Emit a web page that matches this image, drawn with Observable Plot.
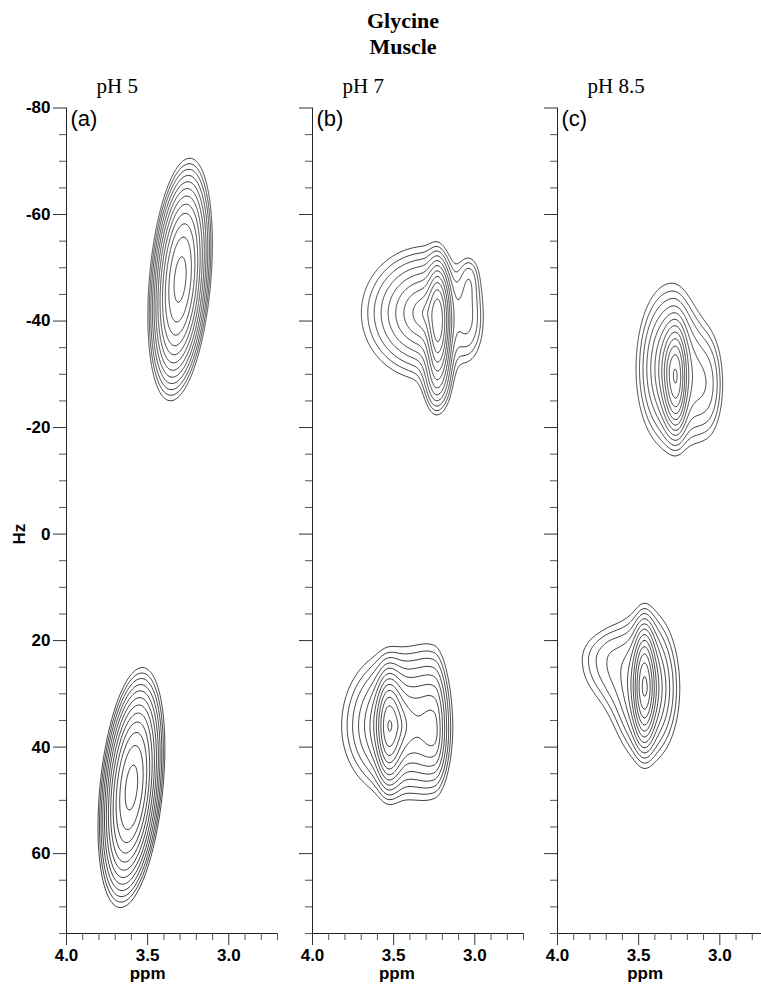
<!DOCTYPE html>
<html>
<head>
<meta charset="utf-8">
<script src="https://cdn.jsdelivr.net/npm/d3@7"></script>
<script src="https://cdn.jsdelivr.net/npm/@observablehq/plot@0.6"></script>
<style>
  html, body { margin: 0; padding: 0; background: #fff; overflow: hidden; }
  #wrap { position: relative; width: 761px; height: 986px; overflow: hidden; background: #fff; }
  #title { position: absolute; left: 303px; top: 8px; width: 200px; text-align: center;
    font-family: "Liberation Serif", "Times New Roman", serif; font-weight: bold; font-size: 22px; line-height: 26px; color: #000; }
</style>
</head>
<body>
<div id="wrap">
  <div id="title">Glycine<br>Muscle</div>
</div>
<script>
// ---- panels and labels ----
const panels = ["a", "b", "c"];
const panelTags = ["(a)", "(b)", "(c)"];
const panelPh = ["pH 5", "pH 7", "pH 8.5"];

// ---- axes ----
const xDomain = [4.0, 2.7];           // ppm (reversed)
const yDomain = [-80, 75];            // Hz (top to bottom)
const xMajorTicks = [4.0, 3.5, 3.0];
const xMinorTicks = [3.9, 3.8, 3.7, 3.6, 3.4, 3.3, 3.2, 3.1, 2.9, 2.8, 2.7];
const yMajorTicks = [-80, -60, -40, -20, 0, 20, 40, 60];
const yMinorTicks = [-75, -70, -65, -55, -50, -45, -35, -30, -25, -15, -10, -5,
                     5, 10, 15, 25, 30, 35, 45, 50, 55, 65, 70, 75];
const xLabel = "ppm";
const yLabel = "Hz";

// ---- contour levels (relative intensity) ----
const contourLevels = [0.06, 0.077, 0.098, 0.126, 0.161, 0.206, 0.264, 0.338, 0.432, 0.553, 0.708, 0.906];

// ---- peak components ----
const peakPanel  = ["a",   "a",   "b",   "b",   "b",   "b",   "b",   "b",   "b",   "b",   "c",   "c",   "c",   "c",   "c",   "c"];
const peakPpm    = [3.30,  3.60,  3.225, 3.29,  3.235, 3.04,  3.03,  3.53,  3.47,  3.25,  3.27,  3.30,  3.08,  3.465, 3.45,  3.70];
const peakHz     = [-47.8, 47.6,  -40,   -41.5, -29,   -40.5, -48.5, 36,    36,    37,    -29.1, -31,   -28.0, 28.4,  29,    23.5];
const peakSdHigh = [0.08,  0.082, 0.035, 0.14,  0.05,  0.07,  0.04,  0.04,  0.12,  0.07,  0.04,  0.085, 0.09,  0.035, 0.085, 0.15];
const peakSdLow  = [0.08,  0.082, 0.04,  0.06,  0.06,  0.075, 0.04,  0.045, 0.10,  0.04,  0.035, 0.075, 0.075, 0.035, 0.08,  0.10];
const peakSdUp   = [9.6,   9.5,   5.5,   4.3,   5.0,   7.0,   2.5,   5.0,   4.9,   6.5,   5.0,   6.3,   7.0,   5.5,   5.8,   4.5];
const peakSdDown = [9.6,   9.5,   5.5,   4.3,   4.5,   6.0,   3.0,   5.5,   4.6,   5.0,   5.0,   6.0,   7.0,   5.5,   5.5,   6.0];
const peakShear  = [0.0026,0.003, 0,     0,     0,     0,     0,     0,     0,     0,     0,     0,     0,     0,     0,     0];
const peakShape  = [2,     2,     2,     1.3,   2,     2,     2,     2,     1.3,   1.6,   2,     1.4,   2,     2,     1.4,   2];
const peakAmp    = [1.0,   1.0,   0.62,  0.45,  0.13,  0.12,  0.045, 0.55,  0.45,  0.28,  0.6,   0.38,  0.12,  0.6,   0.38,  0.09];

function intensity(panel) {
  const idx = [];
  peakPanel.forEach((p, i) => { if (p === panel) idx.push(i); });
  return (x, y) => {
    let s = 0;
    for (const i of idx) {
      const dy = y - peakHz[i];
      const dx = x - peakPpm[i] - peakShear[i] * dy;
      const sx = dx > 0 ? peakSdHigh[i] : peakSdLow[i];
      const sy = dy < 0 ? peakSdUp[i] : peakSdDown[i];
      const r2 = (dx / sx) ** 2 + (dy / sy) ** 2;
      s += peakAmp[i] * Math.exp(-0.5 * Math.pow(r2, peakShape[i] / 2));
    }
    return s;
  };
}

const panelLeft = [0, 246, 491];
const sans = "'Liberation Sans', Arial, Helvetica, sans-serif";
const serif = "'Liberation Serif', 'Times New Roman', serif";

function panelPlot(k) {
  const p = panels[k];
  const marks = [
    Plot.contour({
      value: intensity(p),
      x1: xDomain[0], x2: xDomain[1], y1: yDomain[0], y2: yDomain[1],
      thresholds: contourLevels, fill: "none", stroke: "#1e1e1e", strokeWidth: 0.85, pixelSize: 1
    }),
    Plot.ruleX([xDomain[0]], {stroke: "#222"}),
    Plot.ruleY([yDomain[1]], {stroke: "#222"}),
    Plot.axisY({ticks: yMajorTicks, tickSize: 13, tickPadding: 3,
      tickFormat: k === 0 ? (d => String(d)) : (() => ""), label: null,
      fontWeight: "bold", fontSize: 17, stroke: "#333"}),
    Plot.axisY({ticks: yMinorTicks, tickSize: 7, tickFormat: () => "", label: null, stroke: "#555"}),
    Plot.axisX({ticks: xMajorTicks, tickSize: 12, tickPadding: 3,
      tickFormat: d => d.toFixed(1), label: null, fontWeight: "bold", fontSize: 17, stroke: "#333"}),
    Plot.axisX({ticks: xMinorTicks, tickSize: 7, tickFormat: () => "", label: null, stroke: "#555"}),
    Plot.text([panelTags[k]], {frameAnchor: "top-left", textAnchor: "start", lineAnchor: "top",
      dx: 4, dy: 2, fontSize: 22, fontFamily: sans, fill: "#000"}),
    Plot.text([panelPh[k]], {frameAnchor: "top-left", textAnchor: "start", lineAnchor: "bottom",
      dx: 30, dy: -15, fontSize: 21, fontFamily: serif, fill: "#000"}),
    Plot.text([xLabel], {x: () => xMajorTicks[1] - 0.02 * k, frameAnchor: "bottom", lineAnchor: "bottom",
      dy: 45, fontWeight: "bold", fontSize: 17, fill: "#000"})
  ];
  if (k === 0) {
    marks.push(Plot.text([yLabel], {y: () => yMajorTicks[4], frameAnchor: "left", textAnchor: "middle",
      lineAnchor: "middle", rotate: -90, dx: -47, fontWeight: "bold", fontSize: 17, fill: "#000"}));
  }
  return Plot.plot({
    width: 291, height: 926,
    marginLeft: 66, marginRight: 14, marginTop: 47.5, marginBottom: 53,
    x: {domain: xDomain},
    y: {domain: yDomain, reverse: true},
    style: {fontFamily: sans, fontSize: "16px", background: "transparent", overflow: "visible", color: "#000"},
    marks
  });
}

const wrap = document.getElementById("wrap");
panels.forEach((p, k) => {
  const svg = panelPlot(k);
  svg.style.position = "absolute";
  svg.style.left = panelLeft[k] + "px";
  svg.style.top = "60px";
  wrap.appendChild(svg);
});
</script>
</body>
</html>
